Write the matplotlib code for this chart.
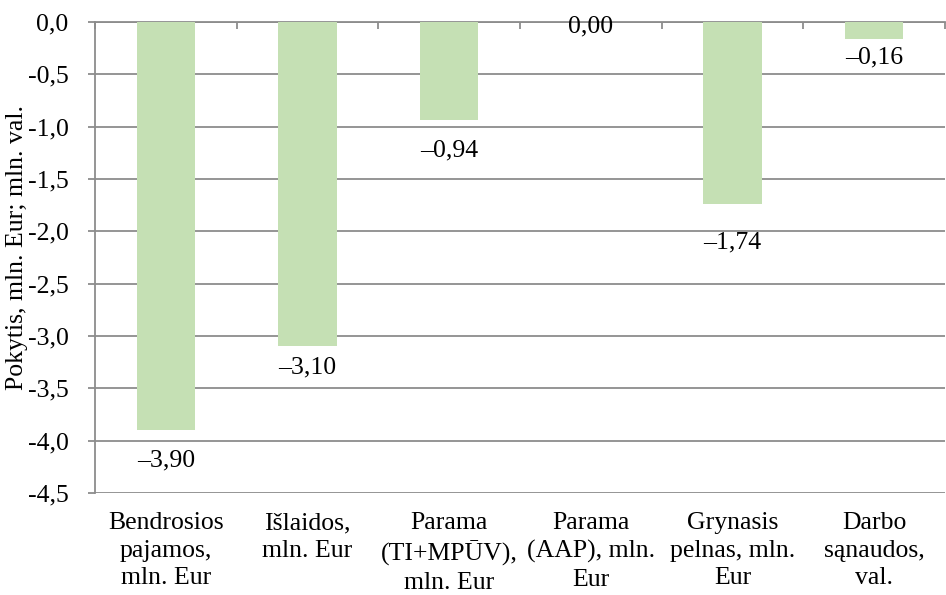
import matplotlib
matplotlib.use("Agg")
import matplotlib.pyplot as plt
import numpy as np

categories = [
    "Bendrosios\npajamos,\nmln. Eur",
    "Išlaidos,\nmln. Eur",
    "Parama\n(TI+MPŪV),\nmln. Eur",
    "Parama\n(AAP), mln.\nEur",
    "Grynasis\npelnas, mln.\nEur",
    "Darbo\nsąnaudos,\nval.",
]
values = [-3.90, -3.10, -0.94, 0.00, -1.74, -0.16]
y_ticks = [0.0, -0.5, -1.0, -1.5, -2.0, -2.5, -3.0, -3.5, -4.0, -4.5]
y_label = "Pokytis, mln. Eur; mln. val."

# label offsets below bar end, in pixels (layout only)
label_offsets_px = [30, 21, 30, 4, 38, 19]

plt.rcParams["font.family"] = ["Liberation Serif", "DejaVu Serif"]
FS = 18.5
GRID = "#8C8C8C"
BAR = "#C5E0B4"

W, H = 946, 595
fig = plt.figure(figsize=(W / 100, H / 100), dpi=100)
left, right, top, bottom = 95, 945, 22, 493
ax = fig.add_axes([left / W, 1 - bottom / H, (right - left) / W, (bottom - top) / H])

x = np.arange(len(values))
ax.bar(x, values, width=0.41, color=BAR, zorder=3)

ax.set_xlim(-0.5, len(values) - 0.5)
ax.set_ylim(-4.5, 0.0)
ax.set_yticks(y_ticks)
ax.set_yticklabels([f"{t:.1f}".replace(".", ",") for t in y_ticks], fontsize=FS)
ax.yaxis.grid(True, color=GRID, linewidth=1.3, zorder=0)
ax.set_axisbelow(True)

for s in ["right", "bottom"]:
    ax.spines[s].set_visible(False)
ax.spines["left"].set_color(GRID)
ax.spines["left"].set_linewidth(1.3)
ax.spines["top"].set_color(GRID)
ax.spines["top"].set_linewidth(1.3)

ax.tick_params(axis="y", length=5, width=1.3, color=GRID, pad=14)
ax.set_xticks(x)
ax.set_xticklabels(categories, fontsize=FS, linespacing=1.32)
ax.set_xticks(np.arange(len(values) + 1) - 0.5, minor=True)
ax.tick_params(axis="x", which="major", length=0, pad=14)
ax.tick_params(axis="x", which="minor", bottom=False, top=True,
               direction="in", length=5, width=1.3, color=GRID)

for xi, v, off in zip(x, values, label_offsets_px):
    txt = f"{v:.2f}".replace(".", ",").replace("-", "\u2013")
    if txt == "\u20130,00":
        txt = "0,00"
    ax.annotate(txt, (xi, v), xytext=(0, -off * 0.72), textcoords="offset points",
                ha="center", va="center", fontsize=FS, zorder=5)

fig.text(17 / W, 1 - 247 / H, y_label, rotation=90, ha="center", va="center", fontsize=FS)

fig.savefig("out.png", dpi=100)
